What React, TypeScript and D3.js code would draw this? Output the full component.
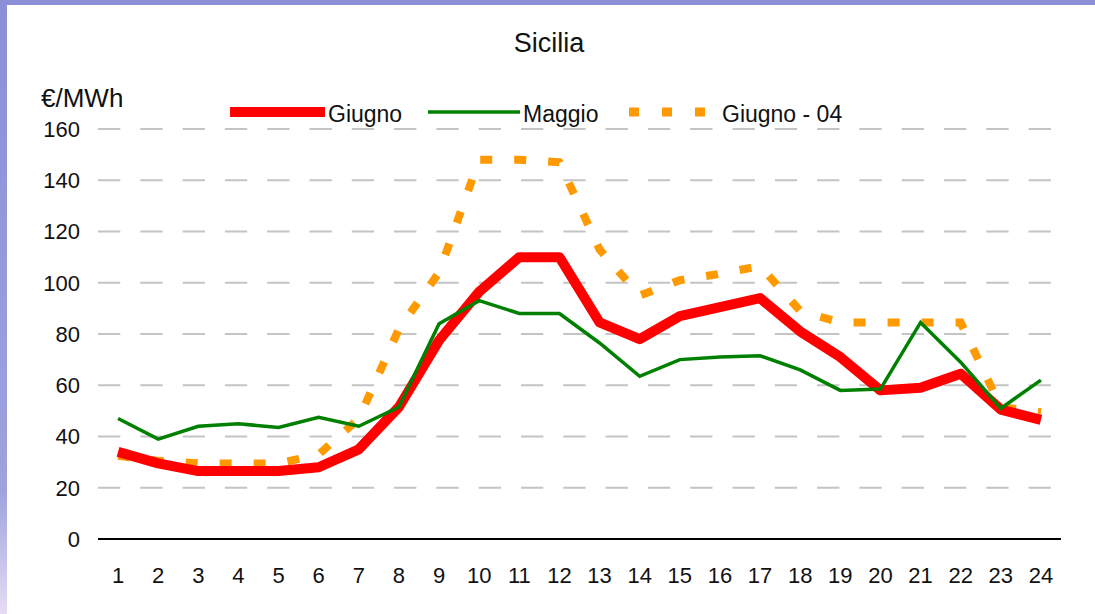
import React, { useEffect, useRef } from 'react';
import * as d3 from 'd3';

const hours = Array.from({ length: 24 }, (_, i) => String(i + 1));
const giugno = [34, 29.5, 26.5, 26.5, 26.5, 28, 35, 51.5, 77.5, 96.5, 110, 110, 84.5, 78, 87, 90.5, 94, 81, 71, 58, 59, 64.5, 50.5, 46.5];
const maggio = [47, 39, 44, 45, 43.5, 47.5, 44, 51.5, 84, 93, 88, 88, 76.5, 63.5, 70, 71, 71.5, 66, 58, 58.5, 84.5, 69, 51, 62];
const giugno04 = [32.5, 30.5, 29.5, 29.5, 29.5, 33, 47, 82, 104, 148, 148, 147, 113, 95, 101, 103.5, 106.5, 89, 84.5, 84.5, 84.5, 84.5, 51.5, 49.5];
const yTicks = [0, 20, 40, 60, 80, 100, 120, 140, 160];

const FONT = '"Liberation Sans", Arial, sans-serif';

const App = () => {
  const svgRef = useRef<SVGSVGElement | null>(null);

  useEffect(() => {
    const width = 1095;
    const height = 614;
    const svg = d3.select(svgRef.current);
    svg.selectAll('*').remove();

    // purple frame
    const defs = svg.append('defs');
    const grad = defs.append('linearGradient')
      .attr('id', 'frame')
      .attr('x1', 0).attr('y1', 0).attr('x2', 0).attr('y2', 1);
    grad.append('stop').attr('offset', '0%').attr('stop-color', '#8a8fd8');
    grad.append('stop').attr('offset', '80%').attr('stop-color', '#9ea3de');
    grad.append('stop').attr('offset', '100%').attr('stop-color', '#e6dcf4');
    svg.append('rect').attr('width', width).attr('height', height).attr('fill', 'url(#frame)');
    svg.append('rect').attr('x', 7).attr('y', 5).attr('width', width - 7).attr('height', height - 5).attr('fill', '#fff');

    const x = d3.scaleBand().domain(hours).range([98, 1061]);
    const y = d3.scaleLinear().domain([0, 160]).range([539, 129]);
    const cx = (h: string) => (x(h) as number) + x.bandwidth() / 2;

    // gridlines
    svg.append('g')
      .selectAll('line')
      .data(yTicks.filter(t => t > 0))
      .enter()
      .append('line')
      .attr('x1', 98)
      .attr('x2', 1061)
      .attr('y1', d => y(d))
      .attr('y2', d => y(d))
      .attr('stroke', '#c4c4c4')
      .attr('stroke-width', 2)
      .attr('stroke-dasharray', '22.3,20');

    // y tick labels
    svg.append('g')
      .selectAll('text')
      .data(yTicks)
      .enter()
      .append('text')
      .attr('x', 80)
      .attr('y', d => y(d))
      .attr('dy', '0.36em')
      .attr('text-anchor', 'end')
      .attr('font-family', FONT)
      .attr('font-size', 22)
      .attr('fill', '#111')
      .text(d => d);

    // x axis line + labels
    svg.append('line')
      .attr('x1', 98).attr('x2', 1061)
      .attr('y1', y(0)).attr('y2', y(0))
      .attr('stroke', '#000').attr('stroke-width', 2);

    svg.append('g')
      .selectAll('text')
      .data(hours)
      .enter()
      .append('text')
      .attr('x', d => cx(d))
      .attr('y', 583)
      .attr('text-anchor', 'middle')
      .attr('font-family', FONT)
      .attr('font-size', 22)
      .attr('fill', '#111')
      .text(d => d);

    // series
    const line = d3.line<number>()
      .x((_, i) => cx(hours[i]))
      .y(d => y(d));

    svg.append('path')
      .datum(giugno04)
      .attr('d', line)
      .attr('fill', 'none')
      .attr('stroke', '#ff9900')
      .attr('stroke-width', 8)
      .attr('stroke-dasharray', '12,22');

    svg.append('path')
      .datum(giugno)
      .attr('d', line)
      .attr('fill', 'none')
      .attr('stroke', '#ff0000')
      .attr('stroke-width', 10)
      .attr('stroke-linejoin', 'round');

    svg.append('path')
      .datum(maggio)
      .attr('d', line)
      .attr('fill', 'none')
      .attr('stroke', '#008000')
      .attr('stroke-width', 3.5);

    // title and unit
    svg.append('text')
      .attr('x', 549)
      .attr('y', 52)
      .attr('text-anchor', 'middle')
      .attr('font-family', FONT)
      .attr('font-size', 27)
      .attr('fill', '#111')
      .text('Sicilia');

    svg.append('text')
      .attr('x', 41)
      .attr('y', 107)
      .attr('font-family', FONT)
      .attr('font-size', 26)
      .attr('fill', '#111')
      .text('€/MWh');

    // legend
    const legend = [
      { name: 'Giugno', color: '#ff0000', w: 10, dash: null, x0: 230, x1: 325 },
      { name: 'Maggio', color: '#008000', w: 3.5, dash: null, x0: 428, x1: 520 },
      { name: 'Giugno - 04', color: '#ff9900', w: 9, dash: '10,23', x0: 629, x1: 716 },
    ];
    const lg = svg.append('g');
    legend.forEach(l => {
      lg.append('line')
        .attr('x1', l.x0).attr('x2', l.x1)
        .attr('y1', 112).attr('y2', 112)
        .attr('stroke', l.color)
        .attr('stroke-width', l.w)
        .attr('stroke-dasharray', l.dash);
      lg.append('text')
        .attr('x', l.name === 'Giugno - 04' ? 722 : l.x1 + 3)
        .attr('y', 122)
        .attr('font-family', FONT)
        .attr('font-size', 23)
        .attr('fill', '#111')
        .text(l.name);
    });
  }, []);

  return (
    <svg
      ref={svgRef}
      width={1095}
      height={614}
      style={{ position: 'fixed', left: 0, top: 0, display: 'block' }}
    ></svg>
  );
};

export default App;
